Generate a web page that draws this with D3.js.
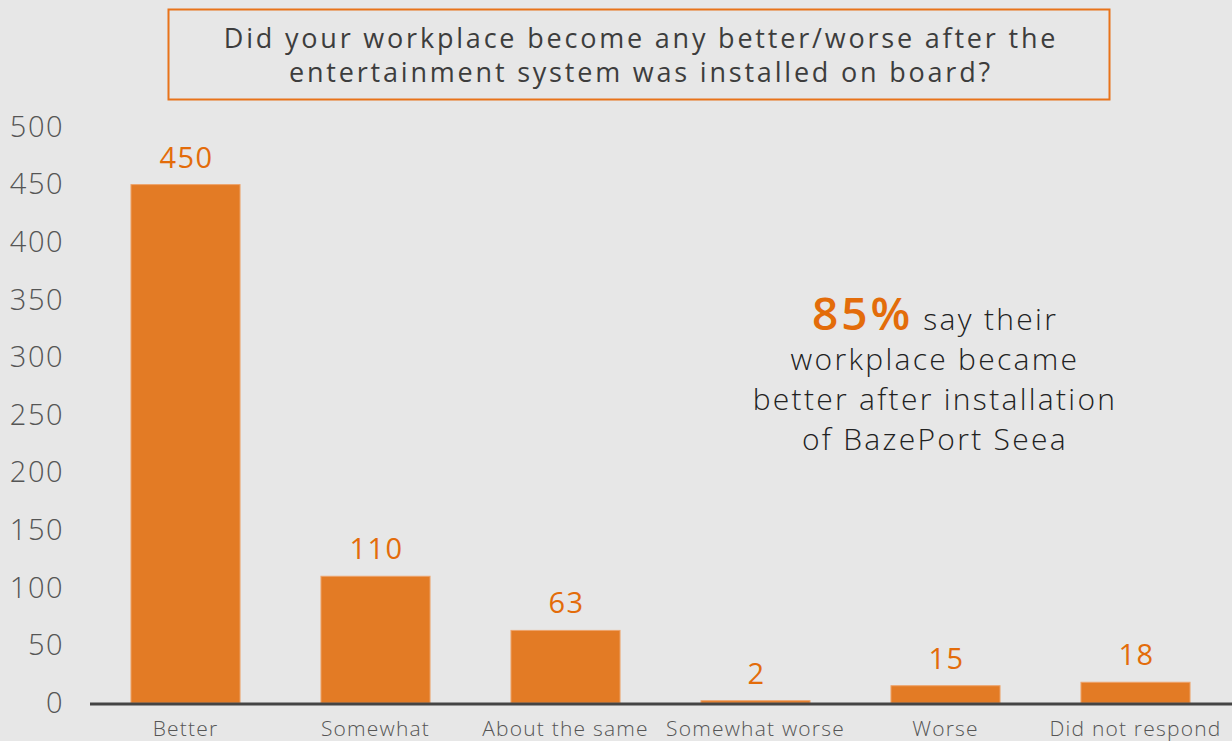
<!DOCTYPE html>
<html>
<head>
<meta charset="utf-8">
<script src="https://cdn.jsdelivr.net/npm/d3@7"></script>
<style>
  html, body { margin: 0; padding: 0; background: #e7e7e7; }
  svg { display: block; font-family: "Open Sans", sans-serif; }
</style>
</head>
<body>
<svg id="chart" width="1232" height="741"></svg>
<script>
var categories = ["Better", "Somewhat", "About the same", "Somewhat worse", "Worse", "Did not respond"];
var values = [450, 110, 63, 2, 15, 18];
var yTicks = [0, 50, 100, 150, 200, 250, 300, 350, 400, 450, 500];
var titleLines = ["Did your workplace become any better/worse after the",
                  "entertainment system was installed on board?"];
var noteLines = ["workplace became", "better after installation", "of BazePort Seea"];

var barColor = "#e37b25";
var labelColor = "#e36c0a";
var font = "'Open Sans', sans-serif";

var svg = d3.select("#chart");

var x = d3.scaleBand()
    .domain(categories)
    .range([90.5, 1230.5])
    .paddingInner(0.426)
    .paddingOuter(0.213);

var y = d3.scaleLinear()
    .domain([0, 500])
    .range([703, 127]);

// title box
svg.append("rect")
    .attr("x", 168.5).attr("y", 9.5)
    .attr("width", 941).attr("height", 90)
    .attr("fill", "none")
    .attr("stroke", "#e8731a")
    .attr("stroke-width", 2);

svg.selectAll(".title")
    .data(titleLines)
    .enter().append("text")
    .attr("class", "title")
    .attr("x", 641)
    .attr("y", function(d, i) { return 48 + i * 34; })
    .attr("text-anchor", "middle")
    .attr("font-size", 27)
    .attr("letter-spacing", 2.8)
    .attr("fill", "#3d3d3d")
    .text(function(d) { return d; });

// y axis labels
var yAxis = d3.axisLeft(y).tickValues(yTicks).tickSize(0).tickPadding(0);
var yg = svg.append("g")
    .attr("transform", "translate(64,0)")
    .call(yAxis);
yg.select(".domain").remove();
yg.selectAll("text")
    .attr("font-size", 29)
    .attr("font-family", font)
    .attr("font-weight", 300)
    .attr("letter-spacing", 1.5)
    .attr("fill", "#555");

// bars
svg.selectAll(".bar")
    .data(values)
    .enter().append("rect")
    .attr("class", "bar")
    .attr("x", function(d, i) { return x(categories[i]); })
    .attr("y", function(d) { return y(d); })
    .attr("width", x.bandwidth())
    .attr("height", function(d) { return y(0) - y(d); })
    .attr("fill", barColor)
    .attr("stroke", "#eea36a")
    .attr("stroke-width", 1);

// value labels
svg.selectAll(".val")
    .data(values)
    .enter().append("text")
    .attr("class", "val")
    .attr("x", function(d, i) { return x(categories[i]) + x.bandwidth() / 2 + 1; })
    .attr("y", function(d) { return y(d) - 17; })
    .attr("text-anchor", "middle")
    .attr("font-size", 29)
    .attr("letter-spacing", 1.5)
    .attr("fill", labelColor)
    .text(function(d) { return d; });

// baseline
svg.append("line")
    .attr("x1", 90).attr("x2", 1232)
    .attr("y1", y(0) + 1).attr("y2", y(0) + 1)
    .attr("stroke", "#444")
    .attr("stroke-width", 3);

// x axis labels
var xAxis = d3.axisBottom(x).tickSize(0).tickPadding(0);
var xg = svg.append("g")
    .attr("transform", "translate(0," + (y(0) + 18) + ")")
    .call(xAxis);
xg.select(".domain").remove();
xg.selectAll("text")
    .attr("font-size", 21)
    .attr("font-family", font)
    .attr("font-weight", 300)
    .attr("letter-spacing", 1.2)
    .attr("fill", "#555");

// annotation
var note = svg.append("text")
    .attr("x", 935)
    .attr("y", 330)
    .attr("text-anchor", "middle")
    .attr("fill", "#222")
    .attr("font-size", 30)
    .attr("font-weight", 300)
    .attr("letter-spacing", 2.3);
note.append("tspan")
    .attr("font-size", 46)
    .attr("font-weight", 600)
    .attr("letter-spacing", 3)
    .attr("fill", labelColor)
    .text("85%");
note.append("tspan").text(" say their");

svg.selectAll(".note")
    .data(noteLines)
    .enter().append("text")
    .attr("class", "note")
    .attr("x", 935)
    .attr("y", function(d, i) { return 370 + i * 40; })
    .attr("text-anchor", "middle")
    .attr("font-size", 30)
    .attr("font-weight", 300)
    .attr("letter-spacing", 2.3)
    .attr("fill", "#222")
    .text(function(d) { return d; });
</script>
</body>
</html>
